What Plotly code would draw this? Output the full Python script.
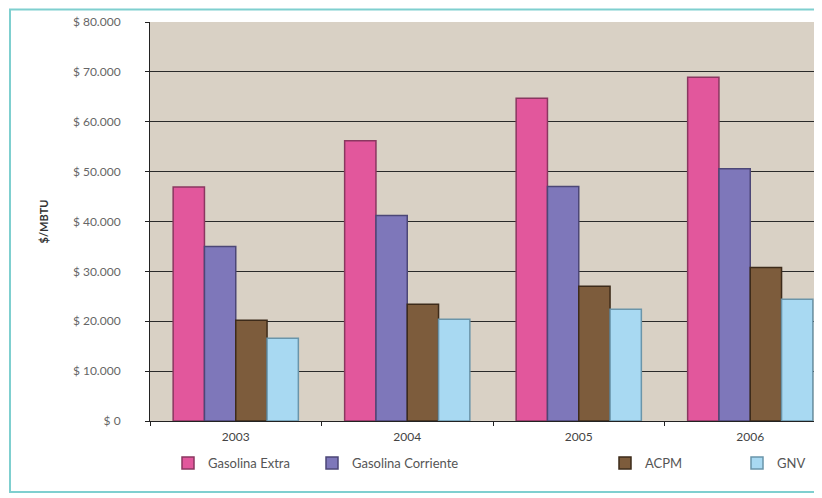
import plotly.graph_objects as go

years = ["2003", "2004", "2005", "2006"]
series_names = ["Gasolina Extra", "Gasolina Corriente", "ACPM", "GNV"]
gasolina_extra = [46900, 56200, 64700, 68900]
gasolina_corriente = [35000, 41200, 47000, 50600]
acpm = [20200, 23400, 27000, 30800]
gnv = [16600, 20400, 22400, 24400]
tick_vals = [0, 10000, 20000, 30000, 40000, 50000, 60000, 70000, 80000]
tick_text = ["$ 0", "$ 10.000", "$ 20.000", "$ 30.000", "$ 40.000",
             "$ 50.000", "$ 60.000", "$ 70.000", "$ 80.000"]

values = [gasolina_extra, gasolina_corriente, acpm, gnv]
colors = ["#e2579c", "#7e77ba", "#7d5c3c", "#a8d9f2"]
edges = ["#8a3760", "#4c4777", "#3d2b1a", "#6a95aa"]
legend_ids = ["legend", "legend2", "legend3", "legend4"]

# page has an 8px body margin; positions below are figure coordinates
OFF = 8
marker_px = [188 - OFF, 332 - OFF, 625 - OFF, 757 - OFF]

W, H = 822, 498
L, R, T = 150 - OFF, 0, 22 - OFF
plot_bottom = 421 - OFF
B = H - plot_bottom
pw = W - L - R
ph = H - T - B
cat_px = 171.5

fig = go.Figure()
for name, vals, c, e, lg in zip(series_names, values, colors, edges, legend_ids):
    fig.add_trace(go.Bar(
        x=years, y=vals, name=name,
        marker=dict(color=c, line=dict(color=e, width=1.5)),
        legend=lg,
    ))

font_fam = "Lato, Open Sans, sans-serif"
legend_cfg = {}
for lg, mx in zip(legend_ids, marker_px):
    legend_cfg[lg] = dict(
        x=(mx - 20 - L) / pw, xanchor="left",
        y=(plot_bottom - (463 - OFF)) / ph, yanchor="middle",
        orientation="h", bgcolor="rgba(0,0,0,0)",
        font=dict(family=font_fam, size=13, color="#555"),
        itemwidth=30,
    )

fig.update_layout(
    width=W, height=H,
    margin=dict(l=L, r=R, t=T, b=B),
    paper_bgcolor="white",
    plot_bgcolor="#d9d1c5",
    barmode="group",
    bargap=0.27,
    bargroupgap=0,
    showlegend=True,
    font=dict(family=font_fam, size=12, color="#555"),
    xaxis=dict(
        type="category",
        range=[-0.5, -0.5 + pw / cat_px],
        showline=True, linecolor="#222", linewidth=1,
        ticks="outside", ticklen=4, tickcolor="#222",
        tickson="boundaries",
        showgrid=False,
        ticklabelstandoff=5,
        tickfont=dict(size=12, color="#444"),
    ),
    yaxis=dict(
        range=[0, 80000],
        tickvals=tick_vals, ticktext=tick_text,
        showline=True, linecolor="#222", linewidth=1,
        ticks="outside", ticklen=4, tickcolor="#222",
        showgrid=True, gridcolor="#2a2a2a", gridwidth=1,
        zeroline=False,
        ticklabelstandoff=22,
        tickfont=dict(size=12, color="#666"),
        title=dict(text="<b>$/MBTU</b>", font=dict(size=11, color="#333"), standoff=22),
    ),
    **legend_cfg,
)

# teal frame around the chart
fig.add_shape(type="rect", xref="paper", yref="paper",
              x0=(10 - OFF - L) / pw, x1=(W + 20 - L) / pw,
              y0=(plot_bottom - (492 - OFF)) / ph, y1=(plot_bottom - 1.5) / ph,
              line=dict(color="#7fcfcf", width=2), fillcolor="rgba(0,0,0,0)",
              layer="below")

fig.write_html("out.html")
